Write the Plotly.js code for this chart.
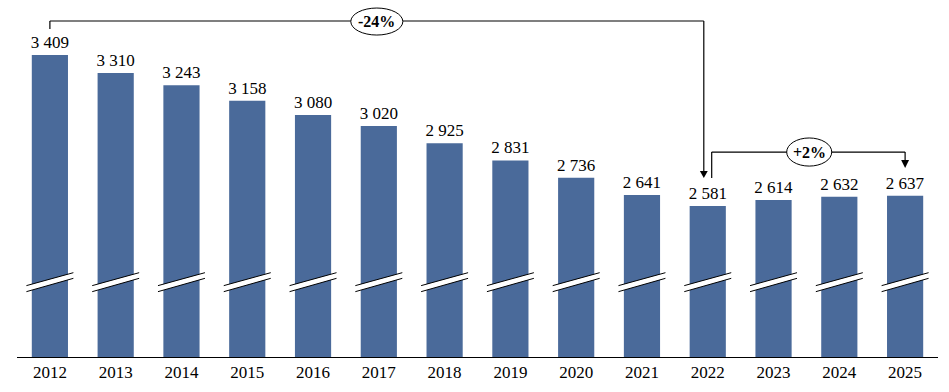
<!DOCTYPE html>
<html><head><meta charset="utf-8">
<script src="https://cdn.plot.ly/plotly-3.0.1.min.js"></script>
<style>html,body{margin:0;padding:0;background:#fff}#chart{width:949px;height:392px}</style>
</head><body><div id="chart"></div>
<script>
const categories = ['2012','2013','2014','2015','2016','2017','2018','2019','2020','2021','2022','2023','2024','2025'];
const values = [3409,3310,3243,3158,3080,3020,2925,2831,2736,2641,2581,2614,2632,2637];
const changeLabels = ['-24%','+2%'];

const fmt = v => String(v).replace(/\B(?=(\d{3})+(?!\d))/g, '\u00a0');
const xs = categories.map((_, i) => i);
const FONT = '"Liberation Serif", "Times New Roman", serif';
const BAR = '#4a6a9a';

const shapes = [];
// axis-break marks on each bar
xs.forEach(i => {
  const xl = i - 0.357, xr = i + 0.357;
  shapes.push({type:'path', xref:'x', yref:'y', layer:'above',
    path:`M${xl},2145 L${xr},2216 L${xr},2185 L${xl},2112 Z`, fillcolor:'#ffffff', line:{width:0}});
  shapes.push({type:'line', xref:'x', yref:'y', x0:xl, y0:2145, x1:xr, y1:2216, line:{color:'#000', width:1}});
  shapes.push({type:'line', xref:'x', yref:'y', x0:xl, y0:2112, x1:xr, y1:2185, line:{color:'#000', width:1}});
});
const L = {color:'#000', width:1.2};
// -24% bracket: 2012 -> 2022
shapes.push({type:'line', xref:'x', yref:'y', x0:0, y0:3551, x1:0, y1:3595, line:L});
shapes.push({type:'line', xref:'x', yref:'y', x0:0, y0:3595, x1:9.94, y1:3595, line:L});
shapes.push({type:'line', xref:'x', yref:'y', x0:9.94, y0:3595, x1:9.94, y1:2765, line:L});
shapes.push({type:'path', xref:'x', yref:'y', path:'M9.88,2773 L10.0,2773 L9.94,2735 Z', fillcolor:'#000', line:{width:0}});
shapes.push({type:'circle', xref:'x', yref:'y', x0:4.574, x1:5.365, y0:3518, y1:3666, fillcolor:'#fff', line:{color:'#000', width:1}});
// +2% bracket: 2022 -> 2025
shapes.push({type:'line', xref:'x', yref:'y', x0:10.06, y0:2735, x1:10.06, y1:2877, line:L});
shapes.push({type:'line', xref:'x', yref:'y', x0:10.06, y0:2877, x1:13, y1:2877, line:L});
shapes.push({type:'line', xref:'x', yref:'y', x0:13, y0:2877, x1:13, y1:2825, line:L});
shapes.push({type:'path', xref:'x', yref:'y', path:'M12.94,2833 L13.06,2833 L13,2790 Z', fillcolor:'#000', line:{width:0}});
shapes.push({type:'circle', xref:'x', yref:'y', x0:11.2, x1:11.885, y0:2800, y1:2954, fillcolor:'#fff', line:{color:'#000', width:1}});

const annotations = [
  {x:4.97, y:3592, xref:'x', yref:'y', text:'<b>'+changeLabels[0]+'</b>', showarrow:false, font:{family:FONT, size:16, color:'#000'}},
  {x:11.54, y:2877, xref:'x', yref:'y', text:'<b>'+changeLabels[1]+'</b>', showarrow:false, font:{family:FONT, size:16, color:'#000'}}
];

const trace = {
  type:'bar', x:xs, y:values, marker:{color:BAR, line:{width:0}},
  text: values.map(fmt), textposition:'outside', cliponaxis:false, constraintext:'none',
  textfont:{family:FONT, size:17, color:'#000'}, hoverinfo:'skip'
};

const layout = {
  width:949, height:392,
  margin:{l:17, r:11, t:0, b:35},
  paper_bgcolor:'#fff', plot_bgcolor:'#fff',
  bargap:0.45, showlegend:false,
  xaxis:{type:'linear', range:[-0.5,13.5], tickvals:xs, ticktext:categories,
    showline:true, linecolor:'#000', linewidth:1, showgrid:false, zeroline:false,
    ticks:'',
    tickfont:{family:FONT, size:17, color:'#000'}, fixedrange:true},
  yaxis:{range:[1754,3710], visible:false, showgrid:false, zeroline:false, fixedrange:true},
  shapes, annotations
};
Plotly.newPlot('chart', [trace], layout, {displayModeBar:false, staticPlot:true});
</script></body></html>
